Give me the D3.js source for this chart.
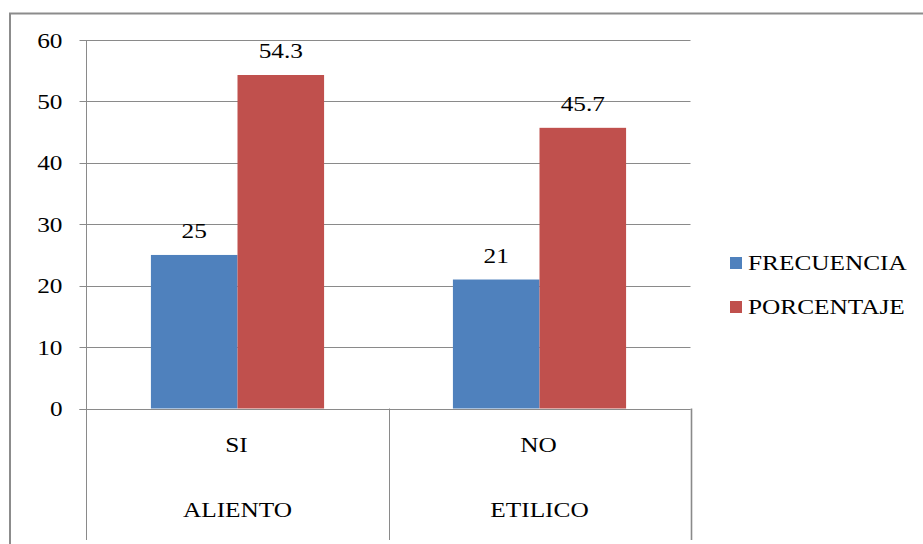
<!DOCTYPE html>
<html>
<head>
<meta charset="utf-8">
<script src="https://cdn.jsdelivr.net/npm/d3@7"></script>
<style>
  html, body { margin: 0; padding: 0; background: #fff; }
  svg { display: block; }
</style>
</head>
<body>
<svg id="chart" width="923" height="544"></svg>
<script>
// Data
const categories = ["SI", "NO"];
const groupLabels = ["ALIENTO", "ETILICO"];
const seriesNames = ["FRECUENCIA", "PORCENTAJE"];
const frecuencia = [25, 21];
const porcentaje = [54.3, 45.7];
const yTicks = [0, 10, 20, 30, 40, 50, 60];
const seriesColors = ["#4F81BD", "#C0504D"];

const svg = d3.select("#chart");
const FONT = 22, SX = 1.15;   // serif text, slightly widened
const gridColor = "#8a8a8a";

// text helper: places a widened serif label with its anchor at (x, y)
function label(g, x, y, str, anchor) {
  const t = g.append("text")
    .attr("x", x).attr("y", y)
    .attr("text-anchor", anchor || "middle")
    .style("font-family", '"Liberation Serif"')
    .style("font-size", FONT + "px")
    .style("fill", "#000")
    .text(str);
  const w = t.node().getComputedTextLength();
  t.attr("textLength", (w * SX).toFixed(1)).attr("lengthAdjust", "spacingAndGlyphs");
  return t;
}

// outer chart frame
svg.append("path")
  .attr("d", "M10,544V13.5H923")
  .attr("fill", "none").attr("stroke", "#8c8c8c").attr("stroke-width", 2);

const plotLeft = 86.5, plotRight = 690.5, plotTop = 40, plotBottom = 408.5, axisBottom = 540;

const y = d3.scaleLinear().domain([0, 60]).range([plotBottom, plotTop]);
const x0 = d3.scaleBand().domain(categories).range([plotLeft, plotRight]).padding(0);
const x1 = d3.scaleBand().domain(seriesNames).range([0, x0.bandwidth()])
  .paddingInner(0).paddingOuter(0.744);

// gridlines (with tick stubs left of the axis)
const grid = svg.append("g");
grid.selectAll("line").data(yTicks).join("line")
  .attr("x1", plotLeft - 7).attr("x2", plotRight)
  .attr("y1", d => Math.round(y(d)) + 0.5).attr("y2", d => Math.round(y(d)) + 0.5)
  .attr("stroke", gridColor).attr("stroke-width", 1);

// y tick labels
yTicks.forEach(t => label(svg, 62.5, y(t) + 7.5, String(t), "end"));

// bars
const rows = categories.map((c, i) => ({ cat: c, values: [frecuencia[i], porcentaje[i]] }));
const bars = svg.append("g");
rows.forEach(r => {
  r.values.forEach((v, j) => {
    const bx = x0(r.cat) + x1(seriesNames[j]);
    bars.append("rect")
      .attr("x", bx).attr("y", y(v))
      .attr("width", x1.bandwidth()).attr("height", y(0) - y(v))
      .attr("fill", seriesColors[j]);
  });
});

// axis lines and category separators
const ax = svg.append("g");
ax.append("line").attr("x1", plotLeft).attr("x2", plotLeft)
  .attr("y1", plotTop).attr("y2", axisBottom).attr("stroke", gridColor);
ax.append("line").attr("x1", plotLeft - 7).attr("x2", plotRight)
  .attr("y1", Math.round(y(0)) + 0.5).attr("y2", Math.round(y(0)) + 0.5).attr("stroke", gridColor);
categories.forEach(c => {
  const xr = Math.round(x0(c) + x0.bandwidth()) + 0.5;
  ax.append("line").attr("x1", xr).attr("x2", xr)
    .attr("y1", y(0)).attr("y2", axisBottom)
    .attr("stroke", gridColor).attr("stroke-width", c === categories[categories.length - 1] ? 1.6 : 1);
});

// value labels
rows.forEach(r => {
  r.values.forEach((v, j) => {
    const cx = x0(r.cat) + x1(seriesNames[j]) + x1.bandwidth() / 2;
    label(svg, cx, y(v) - 17, String(v));
  });
});

// category labels
categories.forEach((c, i) => {
  const cx = x0(c) + x0.bandwidth() / 2;
  label(svg, cx - 1, 452, c);
  label(svg, cx, 517, groupLabels[i]);
});

// legend
seriesNames.forEach((s, i) => {
  const ly = 269.5 + i * 44;
  svg.append("rect").attr("x", 730).attr("y", ly - 12.5)
    .attr("width", 12).attr("height", 12).attr("fill", seriesColors[i]);
  label(svg, 748, ly, s, "start");
});
</script>
</body>
</html>
